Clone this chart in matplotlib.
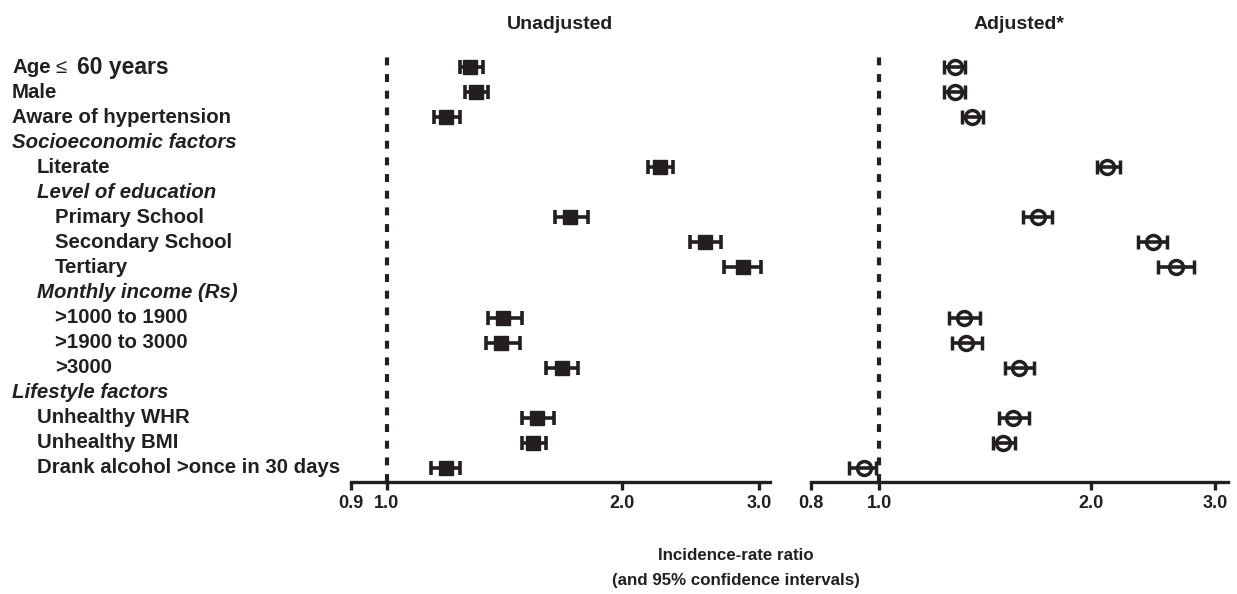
import numpy as np
import matplotlib.pyplot as plt
from matplotlib.transforms import blended_transform_factory
from matplotlib.ticker import FixedLocator, NullLocator

plt.rcParams['font.family'] = ['Liberation Sans', 'DejaVu Sans']
plt.rcParams['font.weight'] = 'bold'

INK = '#231f20'

# row labels: (text, indent level, is_header)
row_labels = [
    ('Age \u2264 60 years', 0, False),
    ('Male', 0, False),
    ('Aware of hypertension', 0, False),
    ('Socioeconomic factors', 0, True),
    ('Literate', 1, False),
    ('Level of education', 1, True),
    ('Primary School', 2, False),
    ('Secondary School', 2, False),
    ('Tertiary', 2, False),
    ('Monthly income (Rs)', 1, True),
    ('>1000 to 1900', 2, False),
    ('>1900 to 3000', 2, False),
    ('>3000', 2, False),
    ('Lifestyle factors', 0, True),
    ('Unhealthy WHR', 1, False),
    ('Unhealthy BMI', 1, False),
    ('Drank alcohol >once in 30 days', 1, False),
]

# unadjusted IRR and 95% CI (data rows only, in order)
unadj = [1.28, 1.30, 1.19, 2.24, 1.72, 2.56, 2.86, 1.41, 1.40, 1.68, 1.56, 1.54, 1.19]
unadj_lo = [1.24, 1.26, 1.15, 2.16, 1.645, 2.45, 2.71, 1.35, 1.34, 1.60, 1.49, 1.49, 1.14]
unadj_hi = [1.33, 1.35, 1.24, 2.33, 1.81, 2.68, 3.02, 1.49, 1.48, 1.76, 1.64, 1.60, 1.24]

# adjusted IRR and 95% CI
adj = [1.28, 1.28, 1.355, 2.11, 1.68, 2.445, 2.64, 1.32, 1.33, 1.58, 1.55, 1.50, 0.95]
adj_lo = [1.236, 1.236, 1.31, 2.04, 1.60, 2.33, 2.49, 1.255, 1.27, 1.51, 1.48, 1.45, 0.906]
adj_hi = [1.326, 1.326, 1.405, 2.20, 1.76, 2.56, 2.80, 1.39, 1.40, 1.66, 1.63, 1.56, 0.991]

left_ticks = [0.9, 1.0, 2.0, 3.0]
right_ticks = [0.8, 1.0, 2.0, 3.0]

ypos = np.array([i for i, r in enumerate(row_labels) if not r[2]])
nrows = len(row_labels)

fig = plt.figure(figsize=(12.37, 5.94), dpi=100)
bottom, top = 1 - 482 / 594, 1 - 53 / 594
ax1 = fig.add_axes([351 / 1237, bottom, (770 - 351) / 1237, top - bottom])
ax2 = fig.add_axes([811 / 1237, bottom, (1228 - 811) / 1237, top - bottom])


def style_axis(ax, xlim, ticks):
    ax.set_xscale('log')
    ax.set_xlim(*xlim)
    ax.set_ylim(nrows - 1 + 0.56, -0.56)
    for s in ['top', 'right', 'left']:
        ax.spines[s].set_visible(False)
    ax.spines['bottom'].set_linewidth(2.4)
    ax.spines['bottom'].set_color(INK)
    ax.xaxis.set_major_locator(FixedLocator(ticks))
    ax.xaxis.set_minor_locator(NullLocator())
    ax.set_xticklabels(['%.1f' % t for t in ticks])
    ax.tick_params(axis='x', length=6, width=2.4, color=INK, labelsize=13,
                   labelcolor=INK, pad=3)
    ax.set_yticks([])
    ax.axvline(1.0, color=INK, lw=3.0, linestyle=(0, (1.9, 2.1)), zorder=1)


style_axis(ax1, (0.9, 3.1), left_ticks)
style_axis(ax2, (0.8, 3.13), right_ticks)

u = np.array(unadj)
ax1.errorbar(u, ypos, xerr=[u - np.array(unadj_lo), np.array(unadj_hi) - u],
             fmt='s', ms=10, color=INK, ecolor=INK, elinewidth=2.6,
             capsize=5, capthick=2.6, zorder=3)

a = np.array(adj)
ax2.errorbar(a, ypos, xerr=[a - np.array(adj_lo), np.array(adj_hi) - a],
             fmt='o', ms=10, mfc='none', mec=INK, mew=2.5, color=INK,
             ecolor=INK, elinewidth=2.6, capsize=5, capthick=2.6, zorder=3)

ax1.set_title('Unadjusted', fontsize=14, fontweight='bold', color=INK, pad=17)
ax2.set_title('Adjusted*', fontsize=14, fontweight='bold', color=INK, pad=17)

# row labels on the left
tr = blended_transform_factory(fig.transFigure, ax1.transData)
indent_x = [12, 37, 55]
for i, (txt, lvl, hdr) in enumerate(row_labels):
    x = indent_x[lvl] / 1237
    if i == 0:
        ax1.text(x, i, 'Age', transform=tr, ha='left', va='center',
                 fontsize=14.7, color=INK, fontweight='bold')
        ax1.text(55 / 1237, i, '\u2264', transform=tr, ha='left', va='center',
                 fontsize=14.7, color=INK, fontweight='normal')
        ax1.text(77 / 1237, i, '60 years', transform=tr, ha='left', va='center',
                 fontsize=16.5, color=INK, fontweight='bold')
        continue
    ax1.text(x, i, txt, transform=tr, ha='left', va='center', fontsize=14.7,
             color=INK, fontweight='bold', fontstyle='italic' if hdr else 'normal')

fig.text(736 / 1237, 1 - 568 / 594,
         'Incidence-rate ratio\n(and 95% confidence intervals)',
         ha='center', va='center', fontsize=12.2, color=INK,
         fontweight='bold', linespacing=1.8)

fig.savefig('out.png', dpi=100)
